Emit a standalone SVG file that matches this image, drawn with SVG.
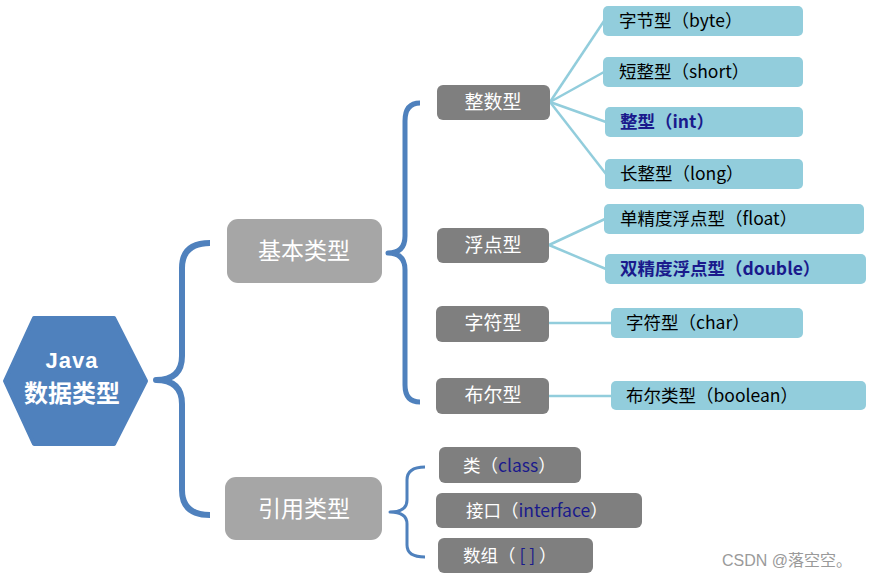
<svg xmlns="http://www.w3.org/2000/svg" width="875" height="579" viewBox="0 0 875 579">
<style>
text{font-family:"Noto Sans CJK SC","Noto Sans",sans-serif}
.brace{fill:none;stroke:#4f81bd;stroke-linecap:butt;stroke-linejoin:round}
.lvl1{fill:#a6a6a6}
.lvl2{fill:#7f7f7f}
.leaf{fill:#92cddc}
.conn{stroke:#92cddc;stroke-width:2.5;fill:none}
.t1{fill:#fff;font-size:23px;text-anchor:middle}
.t2{fill:#fff;font-size:19px;text-anchor:middle}
.t3{fill:#000;font-size:17.5px}
.hl{fill:#1a1a8c;font-weight:bold}
.nv{fill:#1a1a8c}
</style>
<rect width="875" height="579" fill="#fff"/>
<g id="connectors">
<path class="brace" stroke-width="6" d="M210,243 Q182,243 182,268 L182,356 Q182,380 156,380 Q182,380 182,404 L182,490 Q182,515 210,515"/>
<path class="brace" stroke-width="5" d="M420,103 Q405,103 405,121 L405,236 Q405,253 388,253 Q405,253 405,270 L405,385 Q405,402 420,402"/>
<path class="brace" stroke-width="3" d="M425,467 Q407,467 407,480 L407,500 Q407,512 390,512 Q407,512 407,524 L407,545 Q407,557 425,557"/>
<line class="conn" x1="550" y1="102" x2="604" y2="21"/>
<line class="conn" x1="550" y1="102" x2="604" y2="72"/>
<line class="conn" x1="550" y1="102" x2="606" y2="122"/>
<line class="conn" x1="550" y1="102" x2="606" y2="174"/>
<line class="conn" x1="549" y1="245" x2="605" y2="219"/>
<line class="conn" x1="549" y1="245" x2="606" y2="269"/>
<line class="conn" x1="549" y1="323" x2="612" y2="323"/>
<line class="conn" x1="549" y1="396" x2="612" y2="396"/>
</g>
<g id="root">
<polygon points="34,318 114,318 146,381 114,444 34,444 5,381" fill="#4f81bd" stroke="#4f81bd" stroke-width="4" stroke-linejoin="round"/>
<text x="72" y="368" fill="#fff" font-size="22" font-weight="bold" text-anchor="middle" letter-spacing="1" style="font-family:'Liberation Sans',sans-serif">Java</text>
<text x="72" y="402" fill="#fff" font-size="24" font-weight="bold" text-anchor="middle">数据类型</text>
</g>
<g id="basic">
<rect class="lvl1" x="227" y="219" width="155" height="64" rx="11"/>
<text class="t1" x="304" y="259">基本类型</text>
</g>
<g id="ref">
<rect class="lvl1" x="225" y="477" width="157" height="63" rx="11"/>
<text class="t1" x="304" y="517">引用类型</text>
</g>
<g id="int-group">
<rect class="lvl2" x="437" y="85" width="113" height="35" rx="6"/>
<text class="t2" x="493" y="109">整数型</text>
</g>
<g id="float-group">
<rect class="lvl2" x="437" y="228" width="112" height="35" rx="6"/>
<text class="t2" x="493" y="252">浮点型</text>
</g>
<g id="char-group">
<rect class="lvl2" x="436" y="306" width="113" height="36" rx="6"/>
<text class="t2" x="493" y="330">字符型</text>
</g>
<g id="bool-group">
<rect class="lvl2" x="436" y="378" width="113" height="36" rx="6"/>
<text class="t2" x="493" y="402">布尔型</text>
</g>
<g id="class">
<rect class="lvl2" x="439" y="447" width="142" height="36" rx="6"/>
<text x="463" y="472" font-size="17.5" fill="#fff">类（<tspan class="nv">class</tspan>）</text>
</g>
<g id="interface">
<rect class="lvl2" x="436" y="493" width="206" height="35" rx="6"/>
<text x="466" y="517" font-size="17.5" fill="#fff">接口（<tspan class="nv">interface</tspan>）</text>
</g>
<g id="array">
<rect class="lvl2" x="438" y="538" width="155" height="35" rx="6"/>
<text x="463" y="562" font-size="17.5" fill="#fff">数组（ <tspan class="nv">[ ]</tspan> ）</text>
</g>
<g id="byte">
<rect class="leaf" x="603" y="6" width="200" height="30" rx="5"/>
<text class="t3" x="619" y="27">字节型（byte）</text>
</g>
<g id="short">
<rect class="leaf" x="603" y="57" width="200" height="30" rx="5"/>
<text class="t3" x="619" y="78">短整型（short）</text>
</g>
<g id="int">
<rect class="leaf" x="605" y="107" width="198" height="30" rx="5"/>
<text class="t3 hl" x="620" y="128">整型（int）</text>
</g>
<g id="long">
<rect class="leaf" x="605" y="159" width="198" height="30" rx="5"/>
<text class="t3" x="620" y="180">长整型（long）</text>
</g>
<g id="float">
<rect class="leaf" x="604" y="204" width="260" height="30" rx="5"/>
<text class="t3" x="620" y="225">单精度浮点型（float）</text>
</g>
<g id="double">
<rect class="leaf" x="605" y="254" width="261" height="30" rx="5"/>
<text class="t3 hl" x="620" y="275">双精度浮点型（double）</text>
</g>
<g id="char">
<rect class="leaf" x="611" y="308" width="192" height="30" rx="5"/>
<text class="t3" x="626" y="329">字符型（char）</text>
</g>
<g id="boolean">
<rect class="leaf" x="611" y="381" width="255" height="29" rx="5"/>
<text class="t3" x="626" y="402">布尔类型（boolean）</text>
</g>
<text x="722" y="566" font-size="16" fill="#9a9a9a" style="font-family:'Liberation Sans','Noto Sans CJK SC',sans-serif">CSDN @落空空。</text>
</svg>
